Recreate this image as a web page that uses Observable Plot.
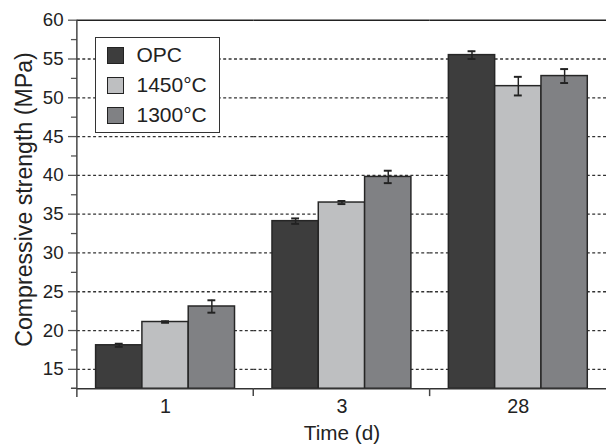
<!DOCTYPE html>
<html>
<head>
<meta charset="utf-8">
<script src="https://cdn.jsdelivr.net/npm/d3@7"></script>
<script src="https://cdn.jsdelivr.net/npm/@observablehq/plot@0.6"></script>
<style>
  html, body { margin: 0; padding: 0; background: #fff; overflow: hidden; }
  #wrap { position: relative; width: 607px; height: 444px; overflow: hidden; }
  #legend {
    position: absolute; left: 95px; top: 37px; width: 125px; height: 96px;
    box-sizing: border-box; border: 1.5px solid #333; background: #fff;
    padding-top: 2px; font-family: 'Liberation Sans', Arial, sans-serif; font-size: 21px; color: #222;
  }
  #legend .row { height: 30px; display: flex; align-items: center; padding-left: 10.5px; }
  #legend .sw { width: 17px; height: 17px; box-sizing: border-box; border: 1.5px solid #222; margin-right: 13px; }
</style>
</head>
<body>
<div id="wrap"><div id="chart"></div><div id="legend"></div></div>
<script>
// ---- data ----
const times = ["1", "3", "28"];                 // Time (d)
const series = ["OPC", "1450°C", "1300°C"];
const opcValues   = [18.1, 34.1, 55.5];
const t1450Values = [21.1, 36.5, 51.5];
const t1300Values = [23.1, 39.8, 52.8];
const opcErrors   = [0.2, 0.35, 0.5];
const t1450Errors = [0.1, 0.2, 1.2];
const t1300Errors = [0.8, 0.8, 0.9];
const colors = ["#3d3d3d", "#bebfc1", "#808184"];
const yMin = 12.5, yMax = 60;
const majorTicks = [15, 20, 25, 30, 35, 40, 45, 50, 55, 60];
const minorTicks = [17.5, 22.5, 27.5, 32.5, 37.5, 42.5, 47.5, 52.5, 57.5];
const gridTicks = [15, 20, 25, 30, 35, 40, 45, 50, 55];
const yLabel = "Compressive strength (MPa)";
const xLabel = "Time (d)";

const valuesBySeries = [opcValues, t1450Values, t1300Values];
const errorsBySeries = [opcErrors, t1450Errors, t1300Errors];
const rows = times.flatMap((t, i) => series.map((s, j) => ({
  time: t, series: s, value: valuesBySeries[j][i], err: errorsBySeries[j][i]
})));

const font = "'Liberation Sans', Arial, Helvetica, sans-serif";

const plot = Plot.plot({
  width: 616, height: 444,
  marginLeft: 77, marginRight: 0, marginTop: 20, marginBottom: 50,
  style: { fontFamily: font, fontSize: "19px", color: "#222", background: "white", overflow: "visible" },
  fx: { domain: times, padding: 0 },
  x: { domain: series, paddingInner: 0, paddingOuter: 0.375, axis: null },
  y: { domain: [yMin, yMax] },
  color: { domain: series, range: colors },
  marks: [
    Plot.gridY({ ticks: gridTicks, stroke: "#333", strokeOpacity: 1, strokeWidth: 1.3, strokeDasharray: "3,2.5" }),
    Plot.ruleY([yMax], { stroke: "#222", strokeWidth: 1.5 }),
    Plot.barY(rows, { fx: "time", x: "series", y1: yMin, y2: "value", fill: "series", stroke: "#262626", strokeWidth: 1.5 }),
    Plot.ruleX(rows, { fx: "time", x: "series", y1: d => d.value - d.err, y2: d => d.value + d.err, stroke: "#222", strokeWidth: 1.5 }),
    Plot.tickY(rows, { fx: "time", x: "series", y: d => d.value + d.err, insetLeft: 19.5, insetRight: 19.5, stroke: "#222", strokeWidth: 2 }),
    Plot.tickY(rows, { fx: "time", x: "series", y: d => d.value - d.err, insetLeft: 19.5, insetRight: 19.5, stroke: "#222", strokeWidth: 2 }),
    Plot.ruleY([yMin], { stroke: "#333", strokeWidth: 1.5 }),
    Plot.axisY({ ticks: majorTicks, tickSize: 9, tickPadding: 5, fontSize: 19, stroke: "#555", strokeWidth: 1.3,
                 label: yLabel, labelArrow: "none", labelAnchor: "center", labelOffset: 63 }),
    Plot.axisY({ ticks: minorTicks, tickSize: 6, tickFormat: () => "", label: null, stroke: "#555", strokeWidth: 1.3 }),
    Plot.axisFx({ anchor: "bottom", tickSize: 0, tickPadding: 10, fontSize: 20,
                  label: xLabel, labelArrow: "none", labelAnchor: "center", labelOffset: 52 })
  ]
});

document.getElementById("chart").appendChild(plot);

// axis-label text: no arrow, larger size as in the reference
const svg = d3.select(plot);
svg.selectAll('[aria-label="y-axis label"]').style("font-size", "23.5px")
  .selectAll("text").text(yLabel).style("font-size", "23.5px").attr("dx", 5);
svg.selectAll('[aria-label="fx-axis label"]').style("font-size", "21px")
  .selectAll("text").text(xLabel).style("font-size", "21px");
svg.selectAll('[aria-label="y-axis tick label"], [aria-label="fx-axis tick label"], [aria-label="y-axis label"], [aria-label="fx-axis label"]')
  .style("fill", "#222");

// axis lines and group-boundary ticks drawn from the plot's own scales
const y = plot.scale("y"), fx = plot.scale("fx");
const x0 = fx.apply(times[0]);
const yb = y.apply(yMin), yt = y.apply(yMax);
const g = svg.append("g").attr("stroke", "#444").attr("stroke-width", 1.5);
g.append("line").attr("x1", x0).attr("x2", x0).attr("y1", yt).attr("y2", yb + 9);
g.append("line").attr("x1", x0 - 6).attr("x2", x0).attr("y1", yb).attr("y2", yb);
times.slice(1).forEach(t => {
  const xx = fx.apply(t);
  g.append("line").attr("x1", xx).attr("x2", xx).attr("y1", yb).attr("y2", yb + 8);
});

// legend
const legend = d3.select("#legend");
series.forEach((s, i) => {
  const row = legend.append("div").attr("class", "row");
  row.append("div").attr("class", "sw").style("background", colors[i]);
  row.append("span").text(s);
});
</script>
</body>
</html>
